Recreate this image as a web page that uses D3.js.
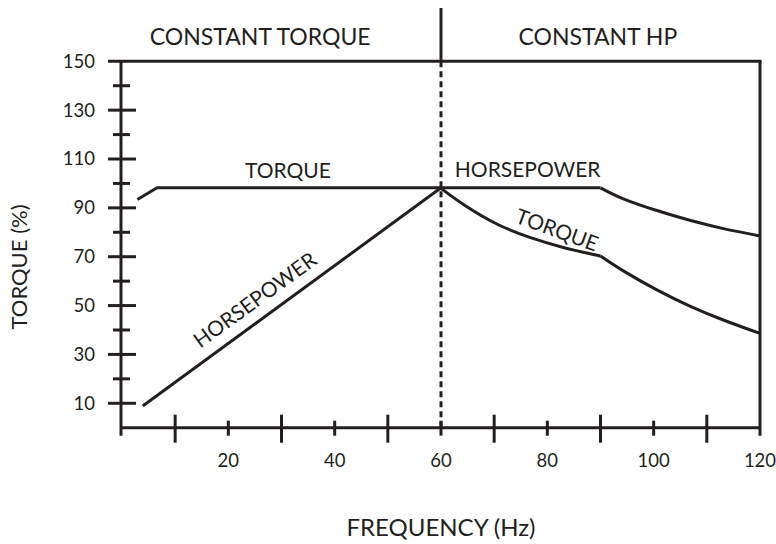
<!DOCTYPE html>
<html><head><meta charset="utf-8">
<script src="https://cdn.jsdelivr.net/npm/d3@7/dist/d3.min.js"></script>
<style>
body{margin:0;background:#fff}
svg text{font-family:Lato,"Open Sans",sans-serif;fill:#231f20}
</style>
</head><body>
<svg id="chart" width="776" height="544"></svg>
<script>
// ---- data ----
const xTickLabels = [20, 40, 60, 80, 100, 120];
const xMajorTicks = [10, 30, 50, 70, 90, 110];
const xMinorTicks = [20, 40, 60, 80, 100];
const yTickLabels = [10, 30, 50, 70, 90, 110, 130, 150];
const yMinorTicks = [20, 40, 60, 80, 100, 120, 140];
const regionLabels = ["CONSTANT TORQUE", "CONSTANT HP"];
const regionCenters = [26, 89.5];
const baseFrequency = 60;

const torqueConstant = [[2.9, 93.4], [6.6, 98.2], [60, 98.2]];
const torqueFalling  = [[60, 98.0], [64.3, 91.3], [70.5, 83.4], [76.7, 77.9], [83, 73.8], [90, 70.3]];
const torqueHigh     = [[90, 70.3], [94.3, 64.2], [100.6, 56.4], [106.8, 49.8], [113.1, 44.1], [120, 38.6]];
const hpRamp         = [[3.9, 8.9], [60, 98.2]];
const hpConstant     = [[60, 98.2], [90, 98.2]];
const hpHigh         = [[90, 98.2], [94.3, 93.7], [100.6, 88.9], [106.8, 84.9], [113.1, 81.5], [120, 78.5]];

// ---- layout ----
const ink = "#231f20";
const svg = d3.select("#chart");
const x = d3.scaleLinear().domain([0, 120]).range([122, 760]);
const y = d3.scaleLinear().domain([0, 150]).range([427.7, 61.3]);
const x0 = x(0) - 1, xEnd = x(120), yTop = y(150), yBase = y(0);

const g = svg.append("g");

// top frame line and right border
g.append("line").attr("x1", 108).attr("x2", xEnd + 1.5).attr("y1", yTop).attr("y2", yTop)
  .attr("stroke", ink).attr("stroke-width", 3);
g.append("line").attr("x1", xEnd).attr("x2", xEnd).attr("y1", yTop).attr("y2", yBase + 8)
  .attr("stroke", ink).attr("stroke-width", 3);
// y axis line
g.append("line").attr("x1", x0).attr("x2", x0).attr("y1", yTop).attr("y2", yBase + 8)
  .attr("stroke", ink).attr("stroke-width", 3);
// x axis line
g.append("line").attr("x1", x0).attr("x2", xEnd).attr("y1", yBase).attr("y2", yBase)
  .attr("stroke", ink).attr("stroke-width", 3);

// y ticks
g.selectAll(".ymaj").data(yTickLabels.filter(d => d < 150)).join("line")
  .attr("x1", x0 - 13).attr("x2", x0 + 15).attr("y1", d => y(d)).attr("y2", d => y(d))
  .attr("stroke", ink).attr("stroke-width", 3);
g.selectAll(".ymin").data(yMinorTicks).join("line")
  .attr("x1", x0 - 8).attr("x2", x0 + 9).attr("y1", d => y(d)).attr("y2", d => y(d))
  .attr("stroke", ink).attr("stroke-width", 3);
g.selectAll(".ylab").data(yTickLabels).join("text")
  .attr("x", 95).attr("y", d => y(d)).attr("dy", "0.35em")
  .attr("text-anchor", "end").attr("font-size", 18.5).text(d => d);

// x ticks
g.selectAll(".xmaj").data(xMajorTicks).join("line")
  .attr("x1", d => x(d)).attr("x2", d => x(d)).attr("y1", yBase - 13).attr("y2", yBase + 15)
  .attr("stroke", ink).attr("stroke-width", 3);
g.selectAll(".xmin").data(xMinorTicks).join("line")
  .attr("x1", d => x(d)).attr("x2", d => x(d)).attr("y1", yBase - 7).attr("y2", yBase + 8)
  .attr("stroke", ink).attr("stroke-width", 3);
g.selectAll(".xlab").data(xTickLabels).join("text")
  .attr("x", d => x(d)).attr("y", 466.5)
  .attr("text-anchor", "middle").attr("font-size", 18.5).text(d => d);

// base frequency divider
g.append("line").attr("x1", x(baseFrequency)).attr("x2", x(baseFrequency)).attr("y1", 8).attr("y2", yTop)
  .attr("stroke", ink).attr("stroke-width", 3);
g.append("line").attr("x1", x(baseFrequency)).attr("x2", x(baseFrequency)).attr("y1", yTop).attr("y2", yBase)
  .attr("stroke", ink).attr("stroke-width", 3).attr("stroke-dasharray", "6,4");

// region headers
g.selectAll(".reg").data(regionLabels).join("text")
  .attr("x", (d, i) => x(regionCenters[i])).attr("y", 45)
  .attr("text-anchor", "middle").attr("font-size", 23).text(d => d);

// curves
const straight = d3.line().x(d => x(d[0])).y(d => y(d[1]));
const smooth = d3.line().x(d => x(d[0])).y(d => y(d[1])).curve(d3.curveNatural);
[[torqueConstant, straight], [hpRamp, straight], [hpConstant, straight],
 [torqueFalling, smooth], [torqueHigh, smooth], [hpHigh, smooth]].forEach(([data, gen]) => {
  g.append("path").attr("d", gen(data)).attr("fill", "none")
    .attr("stroke", ink).attr("stroke-width", 3).attr("stroke-linejoin", "round");
});

// curve labels
g.append("text").attr("x", x(31.2)).attr("y", y(102.3)).attr("text-anchor", "middle")
  .attr("font-size", 21).text("TORQUE");
g.append("text").attr("x", x(76.3)).attr("y", y(102.6)).attr("text-anchor", "middle")
  .attr("font-size", 21).text("HORSEPOWER");
g.append("text").attr("text-anchor", "middle").attr("dy", "0.35em").attr("font-size", 21)
  .attr("transform", `translate(255,300) rotate(-36)`).text("HORSEPOWER");
g.append("text").attr("text-anchor", "middle").attr("dy", "0.35em").attr("font-size", 21)
  .attr("transform", `translate(557,230) rotate(20)`).text("TORQUE");

// axis titles
g.append("text").attr("text-anchor", "middle").attr("font-size", 22)
  .attr("transform", "translate(27,267) rotate(-90)").text("TORQUE (%)");
g.append("text").attr("x", 441).attr("y", 536).attr("text-anchor", "middle")
  .attr("font-size", 24).text("FREQUENCY (Hz)");
</script>
</body></html>
